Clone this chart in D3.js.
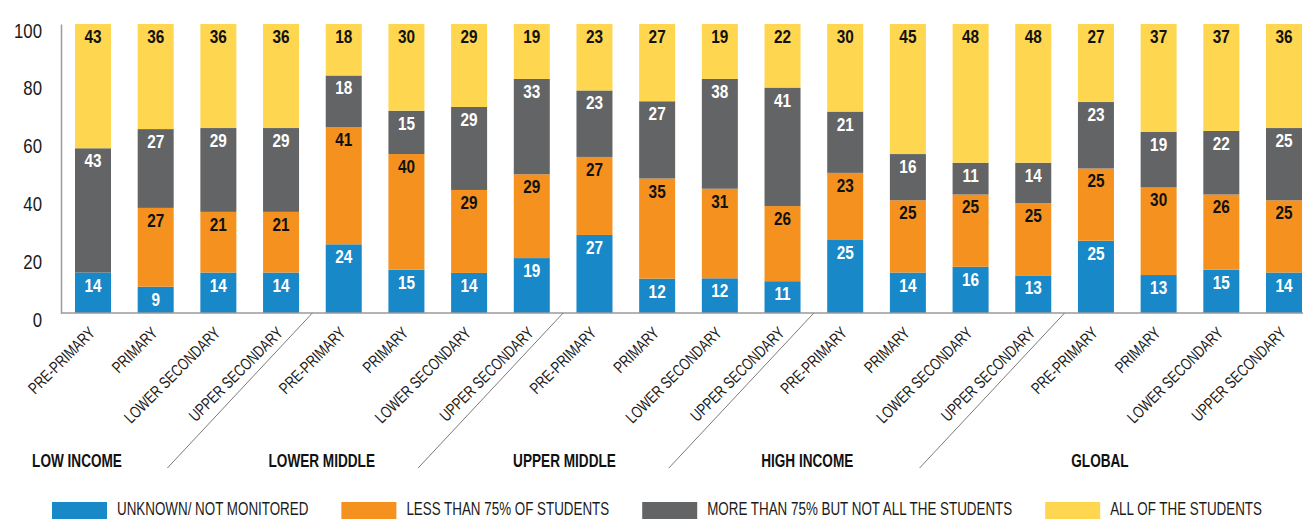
<!DOCTYPE html>
<html><head><meta charset="utf-8">
<script src="https://cdn.jsdelivr.net/npm/d3@7"></script>
<style>
html,body{margin:0;padding:0;background:#fff;overflow:hidden;}
svg{display:block;}
text{font-family:"Liberation Sans",Arial,sans-serif;}
</style></head><body>
<svg id="chart" width="1303" height="519"></svg>
<script>
// ---- data ----
const groups = ["LOW INCOME","LOWER MIDDLE","UPPER MIDDLE","HIGH INCOME","GLOBAL"];
const levels = ["PRE-PRIMARY","PRIMARY","LOWER SECONDARY","UPPER SECONDARY"];
const seriesNames = ["UNKNOWN/ NOT MONITORED","LESS THAN 75% OF STUDENTS","MORE THAN 75% BUT NOT ALL THE STUDENTS","ALL OF THE STUDENTS"];
const unknown     = [14, 9,14,14, 24,15,14,19, 27,12,12,11, 25,14,16,13, 25,13,15,14];
const lessThan75  = [ 0,27,21,21, 41,40,29,29, 27,35,31,26, 23,25,25,25, 25,30,26,25];
const moreThan75  = [43,27,29,29, 18,15,29,33, 23,27,38,41, 21,16,11,14, 23,19,22,25];
const allStudents = [43,36,36,36, 18,30,29,19, 23,27,19,22, 30,45,48,48, 27,37,37,36];
const yTicks = [0,20,40,60,80,100];

// ---- styles / layout ----
const colors = ["#1888c8","#f5921f","#636466","#fed650"];
const labelColors = ["#ffffff","#111111","#ffffff","#111111"];
const W = 1303, H = 519;
const plotTop = 24, plotBottom = 313, axisX = 61;

const svg = d3.select("#chart");
const keys = ["s0","s1","s2","s3"];
const seriesArrays = [unknown, lessThan75, moreThan75, allStudents];
const rows = [];
groups.forEach((g, gi) => levels.forEach((l, li) => {
  const i = gi * levels.length + li;
  const r = {id: i, group: g, level: l};
  keys.forEach((k, ki) => r[k] = seriesArrays[ki][i]);
  rows.push(r);
}));

const x = d3.scaleBand().domain(rows.map(r => r.id)).range([75, 1302]).paddingInner(0.4257).paddingOuter(0);
const y = d3.scaleLinear().domain([0, 100]).range([plotBottom, plotTop]);
const stack = d3.stack().keys(keys).offset(d3.stackOffsetExpand);
const stacked = stack(rows);

// bars
const layers = svg.append("g").selectAll("g").data(stacked).join("g")
  .attr("fill", (d, i) => colors[i]);
layers.selectAll("rect").data(d => d).join("rect")
  .attr("x", d => x(d.data.id))
  .attr("width", x.bandwidth())
  .attr("y", d => y(d[1] * 100))
  .attr("height", d => y(d[0] * 100) - y(d[1] * 100));

// value labels (condensed via horizontal scale)
const valSX = 0.83;
stacked.forEach((layer, li) => {
  svg.append("g").selectAll("text").data(layer.filter(d => d.data[layer.key] > 0)).join("text")
    .attr("transform", d => `translate(${x(d.data.id) + x.bandwidth() / 2},${y(d[1] * 100) + 13}) scale(${valSX},1)`)
    .attr("text-anchor", "middle")
    .attr("dominant-baseline", "central")
    .attr("fill", labelColors[li])
    .style("font-size", "18.5px")
    .style("font-weight", "bold")
    .text(d => d.data[layer.key]);
});

// y axis
const yAxis = d3.axisLeft(y).tickValues(yTicks).tickSize(0).tickSizeOuter(0).tickFormat(d3.format("d"));
const yg = svg.append("g").attr("transform", `translate(${axisX},0)`).call(yAxis);
yg.select(".domain").attr("stroke", "#9a9a9a").attr("stroke-width", 1.5);
yg.selectAll(".tick text")
  .attr("x", null).attr("dy", null)
  .attr("dominant-baseline", "central")
  .attr("transform", "translate(-19,6) scale(0.8,1)")
  .style("font-size", "21px").attr("fill", "#1a1a1a");

// x axis baseline
svg.append("line").attr("x1", axisX).attr("x2", W).attr("y1", plotBottom).attr("y2", plotBottom)
  .attr("stroke", "#9a9a9a").attr("stroke-width", 1.5);

// x labels
svg.append("g").selectAll("text").data(rows).join("text")
  .attr("transform", d => `translate(${x(d.id) + x.bandwidth() / 2 + 3},${plotBottom + 21}) rotate(-45) scale(0.755,1)`)
  .attr("text-anchor", "end")
  .attr("fill", "#1a1a1a")
  .style("font-size", "16.5px")
  .text(d => d.level);

// group separators
for (let g = 1; g < groups.length; g++) {
  const a = rows[g * 4 - 1].id, b = rows[g * 4].id;
  const tx = (x(a) + x.bandwidth() + x(b)) / 2;
  svg.append("line").attr("x1", tx).attr("y1", plotBottom).attr("x2", tx - 145).attr("y2", 468)
    .attr("stroke", "#7a7a7a").attr("stroke-width", 1);
}

// group labels
const groupOffsets = [-16, -22, -30, -38, 4];
svg.append("g").selectAll("text").data(groups).join("text")
  .attr("transform", (g, gi) => `translate(${x(rows[gi * 4].id) + x.bandwidth() / 2 + groupOffsets[gi]},461) scale(0.756,1)`)
  .attr("text-anchor", "middle")
  .attr("dominant-baseline", "central")
  .attr("fill", "#111")
  .style("font-size", "18px")
  .style("font-weight", "bold")
  .text(d => d);

// legend
const legFont = 18.5, legSX = 0.724;
let lx = 52;
const leg = svg.append("g");
seriesNames.forEach((name, i) => {
  leg.append("rect").attr("x", lx).attr("y", 502).attr("width", 55).attr("height", 17).attr("fill", colors[i]);
  const t = leg.append("text")
    .attr("transform", `translate(${lx + 65},508.5) scale(${legSX},1)`)
    .attr("dominant-baseline", "central")
    .attr("fill", "#1a1a1a").style("font-size", legFont + "px").text(name);
  lx += 65 + t.node().getComputedTextLength() * legSX + 33;
});
</script>
</body></html>
